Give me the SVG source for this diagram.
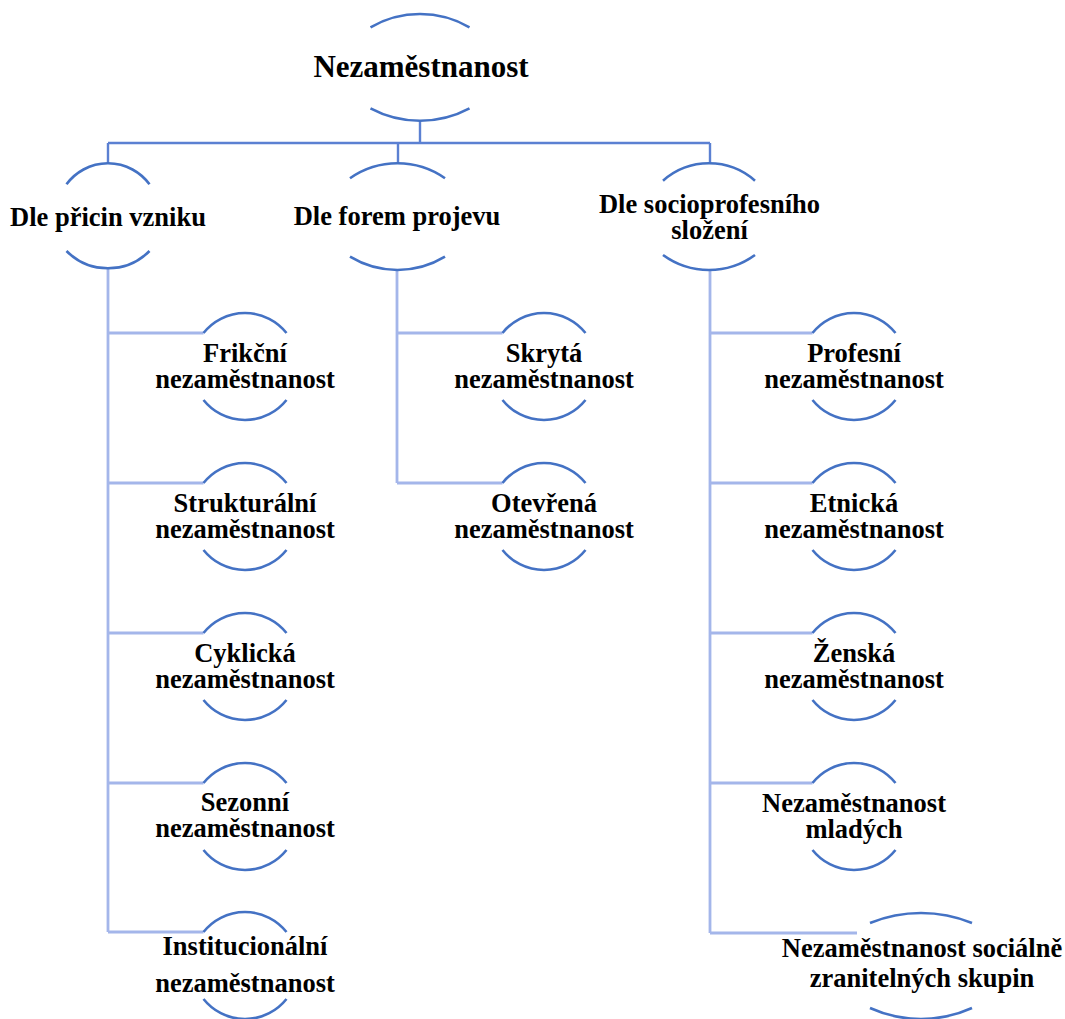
<svg xmlns="http://www.w3.org/2000/svg" width="1065" height="1019" viewBox="0 0 1065 1019">
<style>
.arc{fill:none;stroke:#4472c4;stroke-width:2.6;stroke-linecap:butt}
.c1{fill:none;stroke:#5b80d2;stroke-width:2.4}
.c2{fill:none;stroke:#a4b6ea;stroke-width:2.8}
text{font-family:"Liberation Serif","Times New Roman",serif;font-weight:bold;fill:#000;text-anchor:middle}
.t0{font-size:31px}
.t{font-size:26.5px}
</style>
<rect width="1065" height="1019" fill="#fff"/>
<g id="connectors">
<path class="c1" d="M420,121V143M108,143H710M108,143V163M398,143V163M710,143V163"/>
<path class="c2" d="M108,268V932M108,333H203.5M108,483H203.5M108,633H203.5M108,783H203.5M108,932H203.5"/>
<path class="c2" d="M397,270V483M397,333H502.5M397,483H502.5"/>
<path class="c2" d="M710,270V933M710,333H812.5M710,483H812.5M710,633H812.5M710,783H812.5M710,933H857"/>
</g>
<g id="root">
<path class="arc" d="M370.5,27.3A98.8,98.8 0 0 1 469.5,27.3M370.5,108.3A105,105 0 0 0 469.5,108.3"/>
<text class="t0" x="421" y="77">Nezaměstnanost</text>
</g>
<g id="n-pricin">
<path class="arc" d="M66.5,184.3A51.5,51.5 0 0 1 149.5,184.3M66.5,251A58.4,58.4 0 0 0 149.5,251"/>
<text class="t" x="108" y="226">Dle přicin vzniku</text>
</g>
<g id="n-forem">
<path class="arc" d="M350,178.3A82.7,82.7 0 0 1 445,178.3M350,256.7A91.5,91.5 0 0 0 445,256.7"/>
<text class="t" x="397" y="225">Dle forem projevu</text>
</g>
<g id="n-socio">
<path class="arc" d="M663,180.7A69.5,69.5 0 0 1 755,180.7M663,255A78,78 0 0 0 755,255"/>
<text class="t" x="709.5" y="213">Dle socioprofesního</text>
<text class="t" x="709.5" y="239">složení</text>
</g>
<g id="n-frikcni">
<path class="arc" d="M203.5,333A53,53 0 0 1 286.5,333M203.5,400A53,53 0 0 0 286.5,400"/>
<text class="t" x="245" y="362">Frikční</text>
<text class="t" x="245" y="388">nezaměstnanost</text>
</g>
<g id="n-strukturalni">
<path class="arc" d="M203.5,483A53,53 0 0 1 286.5,483M203.5,550A53,53 0 0 0 286.5,550"/>
<text class="t" x="245" y="512">Strukturální</text>
<text class="t" x="245" y="538">nezaměstnanost</text>
</g>
<g id="n-cyklicka">
<path class="arc" d="M203.5,633A53,53 0 0 1 286.5,633M203.5,700A53,53 0 0 0 286.5,700"/>
<text class="t" x="245" y="662">Cyklická</text>
<text class="t" x="245" y="688">nezaměstnanost</text>
</g>
<g id="n-sezonni">
<path class="arc" d="M203.5,783A53,53 0 0 1 286.5,783M203.5,850A53,53 0 0 0 286.5,850"/>
<text class="t" x="245" y="811">Sezonní</text>
<text class="t" x="245" y="837">nezaměstnanost</text>
</g>
<g id="n-institucionalni">
<path class="arc" d="M203.5,932A53,53 0 0 1 286.5,932M203.5,999A53,53 0 0 0 286.5,999"/>
<text class="t" x="245" y="955">Institucionální</text>
<text class="t" x="245" y="992">nezaměstnanost</text>
</g>
<g id="n-skryta">
<path class="arc" d="M502.5,333A53,53 0 0 1 585.5,333M502.5,400A53,53 0 0 0 585.5,400"/>
<text class="t" x="544" y="362">Skrytá</text>
<text class="t" x="544" y="388">nezaměstnanost</text>
</g>
<g id="n-otevrena">
<path class="arc" d="M502.5,483A53,53 0 0 1 585.5,483M502.5,550A53,53 0 0 0 585.5,550"/>
<text class="t" x="544" y="512">Otevřená</text>
<text class="t" x="544" y="538">nezaměstnanost</text>
</g>
<g id="n-profesni">
<path class="arc" d="M812.5,333A53,53 0 0 1 895.5,333M812.5,400A53,53 0 0 0 895.5,400"/>
<text class="t" x="854" y="362">Profesní</text>
<text class="t" x="854" y="388">nezaměstnanost</text>
</g>
<g id="n-etnicka">
<path class="arc" d="M812.5,483A53,53 0 0 1 895.5,483M812.5,550A53,53 0 0 0 895.5,550"/>
<text class="t" x="854" y="512">Etnická</text>
<text class="t" x="854" y="538">nezaměstnanost</text>
</g>
<g id="n-zenska">
<path class="arc" d="M812.5,633A53,53 0 0 1 895.5,633M812.5,700A53,53 0 0 0 895.5,700"/>
<text class="t" x="854" y="662">Ženská</text>
<text class="t" x="854" y="688">nezaměstnanost</text>
</g>
<g id="n-mladych">
<path class="arc" d="M812.5,783A53,53 0 0 1 895.5,783M812.5,850A53,53 0 0 0 895.5,850"/>
<text class="t" x="854" y="812">Nezaměstnanost</text>
<text class="t" x="854" y="838">mladých</text>
</g>
<g id="n-zranitelnych">
<path class="arc" d="M870,923A135,135 0 0 1 972,923M870,1008A124,124 0 0 0 972,1008"/>
<text class="t" x="922" y="957">Nezaměstnanost sociálně</text>
<text class="t" x="922" y="987">zranitelných skupin</text>
</g>
</svg>
